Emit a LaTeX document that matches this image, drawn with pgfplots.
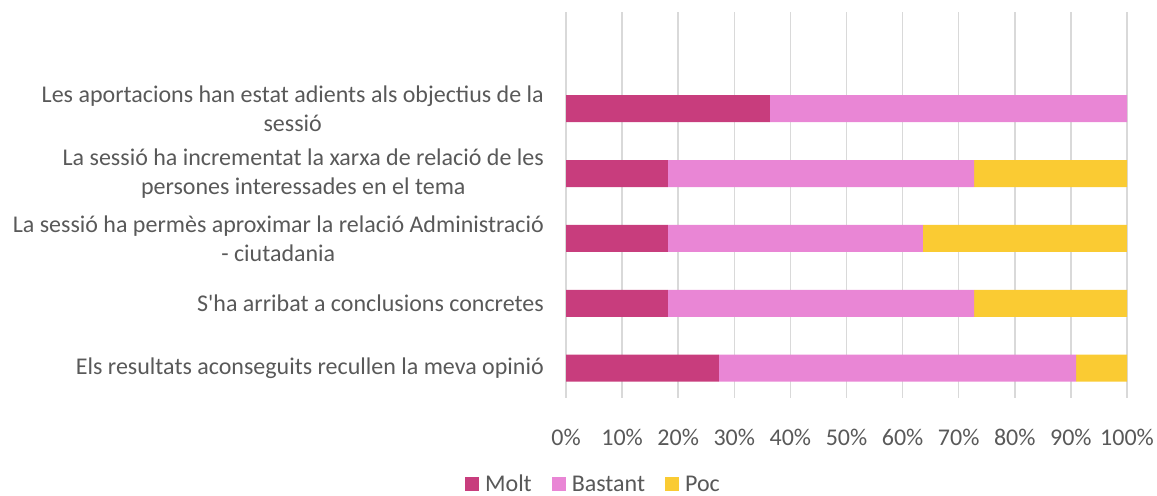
\documentclass[border=0pt]{standalone}
\usepackage{pgfplots}
\pgfplotsset{compat=1.18}
\usepackage{fontspec}
\setmainfont{Carlito}
\definecolor{molt}{HTML}{C83D7D}
\definecolor{bastant}{HTML}{E986D5}
\definecolor{poc}{HTML}{FACB33}
\definecolor{txt}{HTML}{595959}
\definecolor{gridc}{HTML}{D9D9D9}
\begin{document}
\begin{tikzpicture}
\path[use as bounding box] (0,0) rectangle (1157bp,496bp);
\begin{axis}[
  at={(566bp,98bp)}, anchor=south west,
  width=561bp, height=386bp, scale only axis,
  xbar stacked, bar width=27bp,
  xmin=0, xmax=100, ymin=-1.49, ymax=4.46, y dir=reverse,
  xtick={0,10,...,100},
  xticklabel={\pgfmathprintnumber{\tick}\%},
  /pgf/number format/assume math mode=true,
  ytick={0,1,2,3,4},
  yticklabels={{Les aportacions han estat adients als objectius de la\\sessió},
               {La sessió ha incrementat la xarxa de relació de les\\persones interessades en el tema},
               {La sessió ha permès aproximar la relació Administració\\- ciutadania},
               {S\textquotesingle ha arribat a conclusions concretes},
               {Els resultats aconseguits recullen la meva opinió}},
  major tick length=0pt,
  axis line style={draw=none},
  xmajorgrids, major grid style={gridc, line width=1.5bp},
  yticklabel style={align=center, text=txt, font=\fontsize{24bp}{29bp}\selectfont, inner sep=0pt, xshift=-22bp},
  xticklabel style={text=txt, font=\fontsize{24bp}{29bp}\selectfont, inner sep=0pt, anchor=center, yshift=-39bp},
  legend style={at={(0.0472,-0.223)}, anchor=center, draw=none, legend columns=3,
    font=\fontsize{24bp}{29bp}\selectfont, text=txt, nodes={inner xsep=0pt},
    /tikz/every odd column/.append style={column sep=6bp},
    /tikz/every even column/.append style={column sep=20bp}},
  legend image code/.code={\fill[#1] (0bp,-7bp) rectangle (14bp,7bp);},
]
\addplot[fill=molt, draw=none] coordinates {(36.36,0) (18.18,1) (18.18,2) (18.18,3) (27.27,4)};
\addplot[fill=bastant, draw=none] coordinates {(63.64,0) (54.55,1) (45.45,2) (54.55,3) (63.64,4)};
\addplot[fill=poc, draw=none] coordinates {(0,0) (27.27,1) (36.36,2) (27.27,3) (9.09,4)};
\legend{Molt, Bastant, Poc}
\end{axis}
\end{tikzpicture}
\end{document}
